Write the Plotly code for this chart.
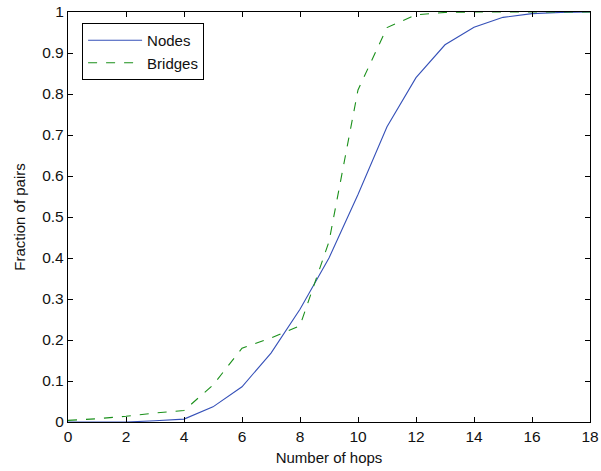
import plotly.graph_objects as go

hops = list(range(0, 19))
nodes = [0.0, 0.0, 0.0, 0.003, 0.007, 0.037, 0.086, 0.168, 0.275, 0.40, 0.555, 0.72,
         0.84, 0.92, 0.963, 0.987, 0.996, 0.999, 1.0]
bridges = [0.004, 0.008, 0.014, 0.022, 0.028, 0.09, 0.18, 0.205, 0.235, 0.44, 0.81, 0.962,
           0.993, 0.999, 1.0, 1.0, 1.0, 1.0, 1.0]

x_ticks = list(range(0, 19, 2))
y_ticks = [i / 10 for i in range(11)]
y_labels = ["0", "0.1", "0.2", "0.3", "0.4", "0.5", "0.6", "0.7", "0.8", "0.9", "1"]

fig = go.Figure()
fig.add_trace(go.Scatter(x=hops, y=nodes, mode="lines", name="Nodes",
                         line=dict(color="#3550b8", width=1.1)))
fig.add_trace(go.Scatter(x=hops, y=bridges, mode="lines", name="Bridges",
                         line=dict(color="#1a901a", width=1.1, dash="dash")))

font = "Liberation Sans, Arial, Helvetica, sans-serif"
fig.update_layout(
    width=601, height=471,
    margin=dict(l=68, r=11, t=12, b=49),
    paper_bgcolor="white", plot_bgcolor="white",
    font=dict(family=font, size=15.5, color="#111"),
    showlegend=True,
    legend=dict(x=0.027, y=0.973, xanchor="left", yanchor="top",
                bordercolor="black", borderwidth=1, bgcolor="white",
                font=dict(size=15), tracegroupgap=0, itemwidth=54),
)
fig.update_xaxes(range=[0, 18], tickvals=x_ticks, ticks="inside", ticklen=5,
                 tickcolor="black", showline=True, linecolor="black", linewidth=1.3,
                 mirror="ticks", showgrid=False, zeroline=False, automargin=False,
                 title=dict(text="Number of hops", font=dict(size=15), standoff=8),
                 tickfont=dict(size=15.5))
fig.update_yaxes(range=[0, 1], tickvals=y_ticks, ticktext=y_labels, ticks="inside",
                 ticklen=5, tickcolor="black", showline=True, linecolor="black",
                 linewidth=1.3, mirror="ticks", showgrid=False, zeroline=False,
                 automargin=False,
                 title=dict(text="Fraction of pairs", font=dict(size=15), standoff=12),
                 tickfont=dict(size=15.5))

fig.write_html("out.html", config={"displayModeBar": False},
               post_script="document.body.style.margin='0px';")
